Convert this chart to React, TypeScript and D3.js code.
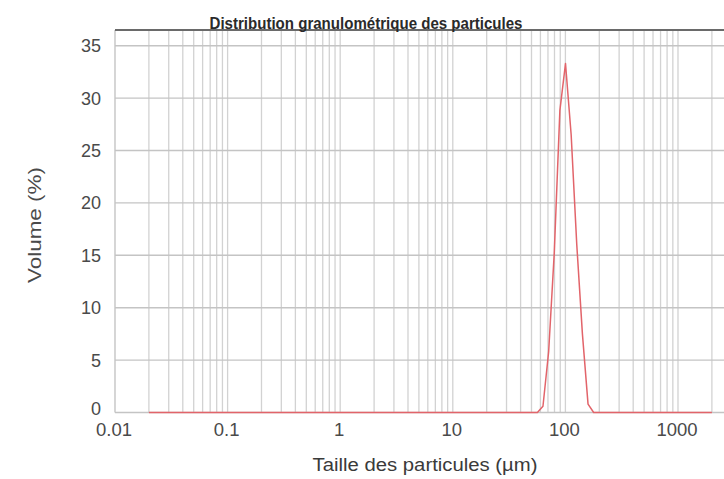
import React from "react";
import * as d3 from "d3";

// Particle size distribution (laser diffraction), volume % per size class
const sizes = [0.02, 50.2, 56.4, 63.2, 71.0, 79.6, 89.3, 100.2, 112.5, 126.2, 141.6, 158.9, 178.3, 2000];
const volumes = [0, 0, 0, 0.6, 5.8, 15.2, 28.8, 33.3, 26.5, 16.0, 7.5, 0.8, 0, 0];

const xTickValues = [0.01, 0.1, 1, 10, 100, 1000];
const xTickLabels = ["0.01", "0.1", "1", "10", "100", "1000"];
const yTickValues = [0, 5, 10, 15, 20, 25, 30, 35];

const title = "Distribution granulométrique des particules";
const xTitle = "Taille des particules (µm)";
const yTitle = "Volume (%)";

const W = 724;
const H = 479;
const left = 115;
const right = 724;
const top = 30;
const bottom = 412.5;

export default function App() {
  const x = d3.scaleLog().domain([0.01, 1000]).range([left, 678]);
  const y = d3.scaleLinear().domain([0, 36.5]).range([bottom, top]);

  // minor grid: 1..9 in every decade, clipped to the plot width
  const gridX: number[] = [];
  for (let e = -2; e <= 4; e++) {
    for (let k = 1; k <= 9; k++) {
      const v = k * Math.pow(10, e);
      const px = x(v);
      if (px > left + 0.5 && px <= right) gridX.push(v);
    }
  }

  const pts = sizes.map((s, i) => [s, volumes[i]] as [number, number]);
  const line = d3
    .line<[number, number]>()
    .x((d) => x(d[0]))
    .y((d) => y(d[1]));

  const font = "'Liberation Sans', Arial, sans-serif";

  return (
    <svg
      width={W}
      height={H}
      viewBox={`0 0 ${W} ${H}`}
      style={{ position: "absolute", left: 0, top: 0, background: "#fff" }}
    >
      <rect x={0} y={0} width={W} height={H} fill="#fff" />
      {/* vertical grid */}
      {gridX.map((v, i) => (
        <line
          key={"gx" + i}
          x1={x(v)}
          x2={x(v)}
          y1={top}
          y2={bottom}
          stroke="#d2d2d2"
          strokeWidth={1.3}
        />
      ))}
      {/* horizontal grid */}
      {yTickValues.map((v) => (
        <line
          key={"gy" + v}
          x1={left}
          x2={right}
          y1={y(v)}
          y2={y(v)}
          stroke="#c4c4c4"
          strokeWidth={1.4}
        />
      ))}
      {/* left axis */}
      <line x1={left} x2={left} y1={top} y2={bottom} stroke="#c4c4c4" strokeWidth={1.4} />
      {/* top frame */}
      <line x1={left} x2={right} y1={top} y2={top} stroke="#6a6a6a" strokeWidth={2.2} />

      {/* distribution curve */}
      <path d={line(pts) || ""} fill="none" stroke="#e2646a" strokeWidth={1.5} strokeLinejoin="round" />

      {/* y tick labels */}
      {yTickValues.map((v) => (
        <text
          key={"ty" + v}
          x={101}
          y={y(v) - (v === 0 ? 4 : 0)}
          dy="0.36em"
          textAnchor="end"
          fontFamily={font}
          fontSize={18}
          fill="#4a4a4a"
        >
          {v}
        </text>
      ))}
      {/* x tick labels */}
      {xTickValues.map((v, i) => (
        <text
          key={"tx" + v}
          x={x(v) - 1}
          y={436}
          textAnchor="middle"
          fontFamily={font}
          fontSize={18.5}
          fill="#4a4a4a"
        >
          {xTickLabels[i]}
        </text>
      ))}

      {/* titles */}
      <text
        x={366}
        y={29}
        textAnchor="middle"
        fontFamily={font}
        fontSize={16}
        fontWeight="bold"
        fill="#2a2a2a"
        textLength={313}
        lengthAdjust="spacingAndGlyphs"
      >
        {title}
      </text>
      <text
        x={425}
        y={471}
        textAnchor="middle"
        fontFamily={font}
        fontSize={17.5}
        fill="#3a3a3a"
        textLength={225}
        lengthAdjust="spacingAndGlyphs"
      >
        {xTitle}
      </text>
      <text
        transform="translate(41,225) rotate(-90)"
        textAnchor="middle"
        fontFamily={font}
        fontSize={18}
        fill="#4a4a4a"
        textLength={116}
        lengthAdjust="spacingAndGlyphs"
      >
        {yTitle}
      </text>
    </svg>
  );
}
